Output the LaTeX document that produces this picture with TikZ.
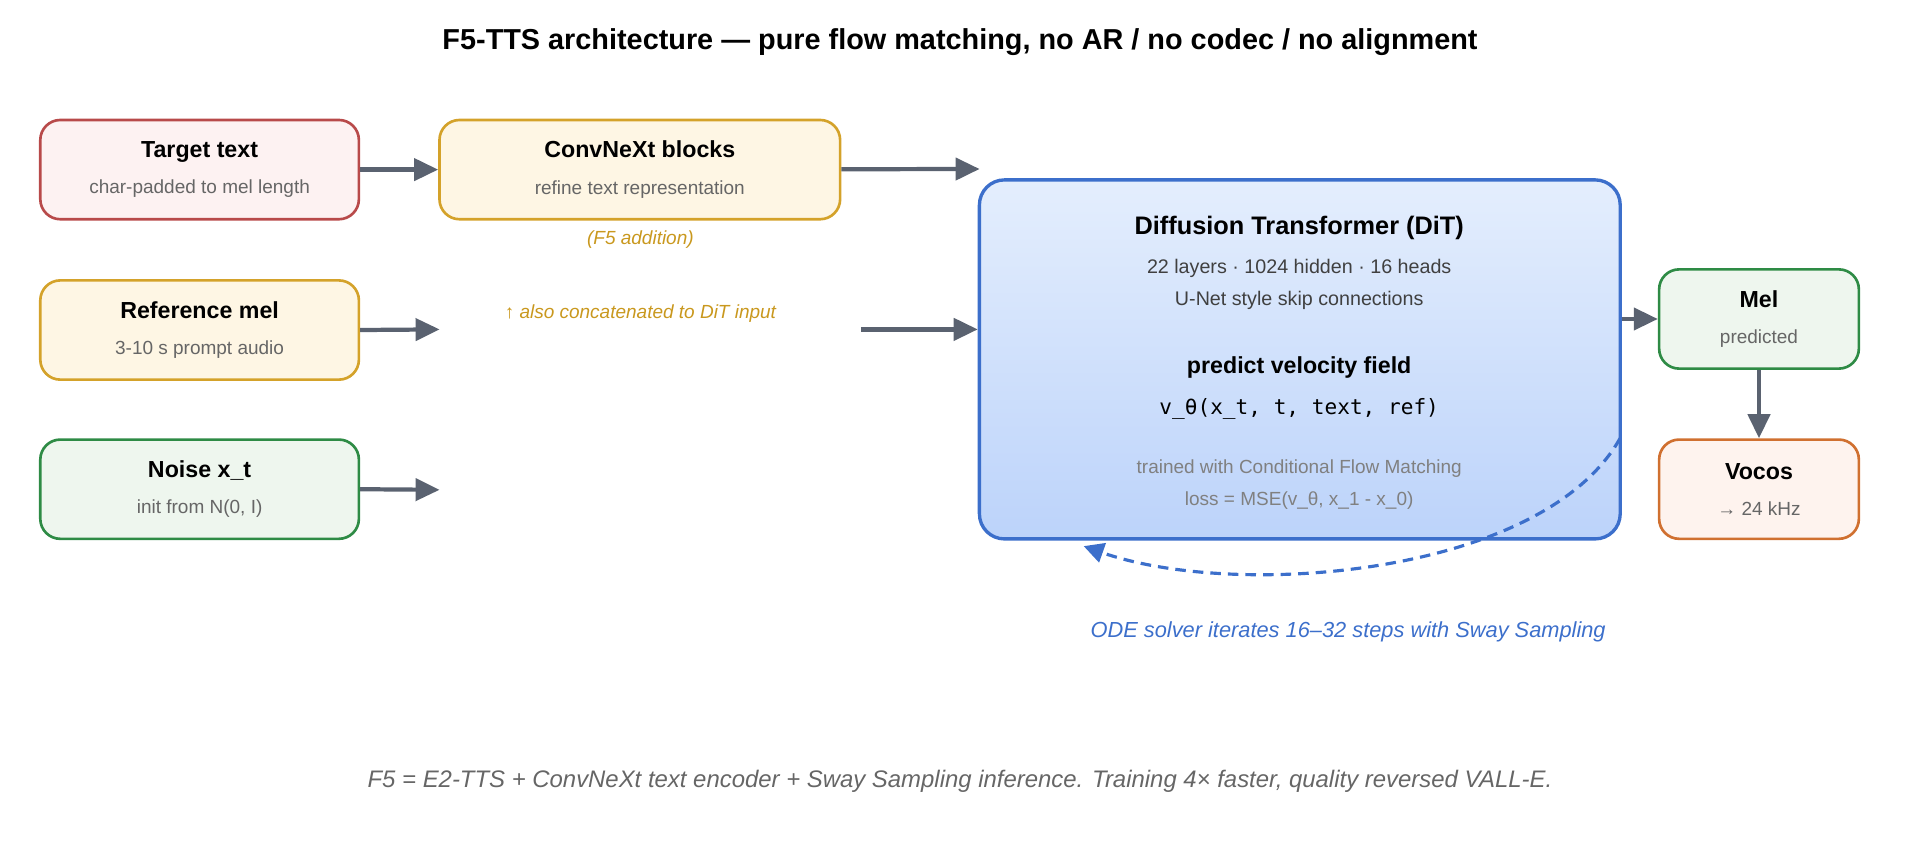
\documentclass[tikz,border=0pt]{standalone}
\usepackage{fontspec}
\setmainfont{Liberation Sans}
\setmonofont{DejaVu Sans Mono}
\usetikzlibrary{arrows.meta,calc,positioning}
\definecolor{arrowgray}{HTML}{5A6270}
\definecolor{redline}{HTML}{B84A4A}\definecolor{redfill}{HTML}{FDF2F2}
\definecolor{goldline}{HTML}{D4A22A}\definecolor{goldfill}{HTML}{FEF6E4}
\definecolor{greenline}{HTML}{2E8B45}\definecolor{greenfill}{HTML}{EEF6EE}
\definecolor{orangeline}{HTML}{D07030}\definecolor{orangefill}{HTML}{FEF3EE}
\definecolor{blueline}{HTML}{3C6FCB}\definecolor{subgray}{HTML}{666666}
\definecolor{goldtext}{HTML}{C9981E}
\definecolor{ditlight}{HTML}{E4EEFD}\definecolor{ditdark}{HTML}{BCD3FA}
\tikzset{
  box/.style={draw, rounded corners=2mm, line width=0.75pt, minimum height=9.92mm, align=center, inner sep=0pt},
  flow/.style={-{Triangle[length=2.4mm,width=2.2mm]}, draw=arrowgray, line width=1.2pt},
  sub/.style={font=\fontsize{5.4}{6}\selectfont, text=subgray},
}
\newcommand{\boxtext}[2]{{\fontsize{6.6}{8}\selectfont\bfseries #1}\\[-0.6mm]{\fontsize{5.4}{6}\selectfont\color{subgray}#2}}
\begin{document}
\begin{tikzpicture}[x=0.012245cm,y=-0.012245cm]
	\useasboundingbox (0,0) rectangle (1568,686);
	\node (title) at (784,34) {\fontsize{8.2}{10}\selectfont\bfseries F5-TTS architecture — pure flow matching, no AR / no codec / no alignment};

	% input column
	\node[box, draw=redline, fill=redfill, minimum width=31.84mm] (target) at (163,138.5) {\boxtext{Target text}{char-padded to mel length}};
	\node[box, draw=goldline, fill=goldfill, minimum width=31.84mm] (refmel) at (163,269.5) {\boxtext{Reference mel}{3-10 s prompt audio}};
	\node[box, draw=greenline, fill=greenfill, minimum width=31.84mm] (noise) at (163,399.5) {\boxtext{Noise x\_t}{init from N(0, I)}};

	% text encoder
	\node[box, draw=goldline, fill=goldfill, minimum width=40.04mm] (convnext) at (522.5,138.5) {\boxtext{ConvNeXt blocks}{refine text representation}};
	\node[font=\fontsize{5.4}{6}\selectfont\itshape, text=goldtext] (addition) at (523,196) {(F5 addition)};
	\node[font=\fontsize{5.4}{6}\selectfont\itshape, text=goldtext] (concat) at (523,256) {↑ also concatenated to DiT input};

	% DiT
	\node[draw=blueline, line width=0.95pt, rounded corners=2.5mm, top color=ditlight, bottom color=ditdark, minimum width=64.04mm, minimum height=35.88mm] (dit) at (1061.5,293.5) {};
	\node[font=\fontsize{7.2}{9}\selectfont\bfseries] (dittitle) at (1061,186) {Diffusion Transformer (DiT)};
	\node[font=\fontsize{5.6}{6}\selectfont, text=black!75] (ditl1) at (1061,219) {22 layers · 1024 hidden · 16 heads};
	\node[font=\fontsize{5.6}{6}\selectfont, text=black!75] (ditl2) at (1061,245) {U-Net style skip connections};
	\node[font=\fontsize{6.6}{8}\selectfont\bfseries] (velocity) at (1061,300) {predict velocity field};
	\node[font=\fontsize{6}{7}\ttfamily] (vtheta) at (1061,334) {v\_θ(x\_t, t, text, ref)};
	\node[sub, text=black!50] (train1) at (1061,383) {trained with Conditional Flow Matching};
	\node[sub, text=black!50] (train2) at (1061,409) {loss = MSE(v\_θ, x\_1 - x\_0)};

	% outputs
	\node[box, draw=greenline, fill=greenfill, minimum width=19.96mm] (mel) at (1436.5,260.5) {\boxtext{Mel}{predicted}};
	\node[box, draw=orangeline, fill=orangefill, minimum width=19.96mm] (vocos) at (1436.5,399.5) {\boxtext{Vocos}{→ 24 kHz}};

	% connectors
	\coordinate (convout) at (800,138);
	\coordinate (refout) at (359,269);
	\coordinate (refin) at (703,269);
	\coordinate (noiseout) at (359,400);
	\draw[flow] (target) -- (convnext);
	\draw[flow] (convnext) -- (convout);
	\draw[flow] (refmel.east) -- (refout);
	\draw[flow] (refin) -- (refin -| dit.west);
	\draw[flow] (noise.east) -- (noiseout);
	\draw[flow] (dit.east |- mel.west) -- (mel.west);
	\draw[flow] (mel) -- (vocos);

	% sampling loop
	\coordinate (loopstart) at (1323,358);
	\coordinate (loopend) at (885,446);
	\draw[blueline, densely dashed, line width=0.9pt, -{Triangle[length=2mm,width=2mm]}] (loopstart) .. controls (1260,470) and (1010,490) .. (loopend);
	\node[font=\fontsize{6.2}{7}\selectfont\itshape, text=blueline] (ode) at (1101,516) {ODE solver iterates 16–32 steps with Sway Sampling};

	\node[font=\fontsize{6.8}{8}\selectfont\itshape, text=subgray] (footer) at (784,638) {F5 = E2-TTS + ConvNeXt text encoder + Sway Sampling inference. Training 4× faster, quality reversed VALL-E.};
\end{tikzpicture}
\end{document}
